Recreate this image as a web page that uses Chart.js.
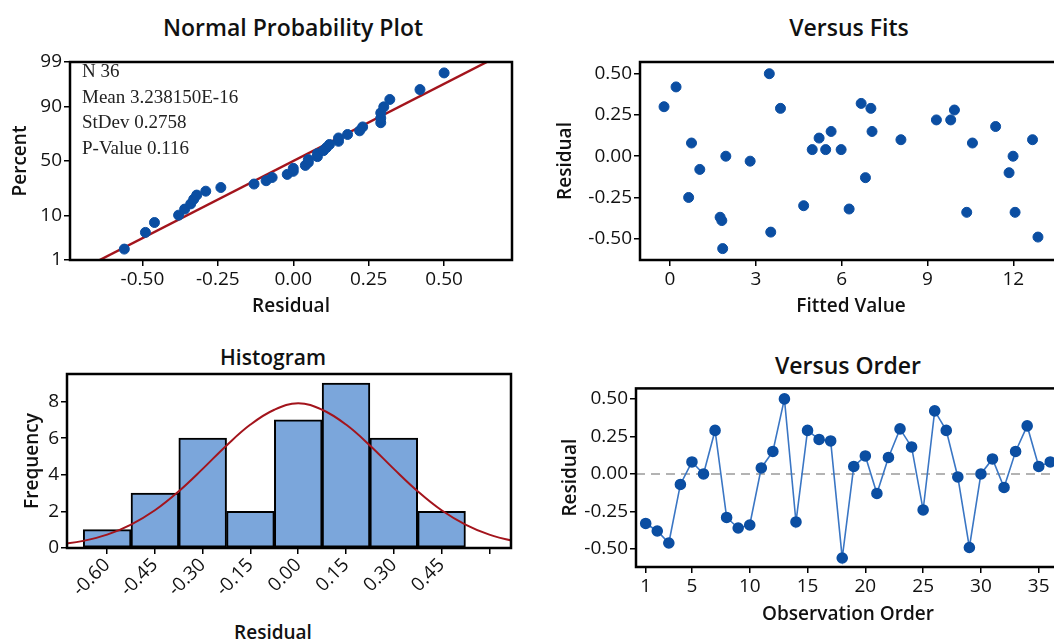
<!DOCTYPE html>
<html lang="en">
<head>
<meta charset="UTF-8" />
<title>Residual Plots</title>
<script src="https://cdn.jsdelivr.net/npm/chart.js"></script>
<style>
  html, body { margin: 0; padding: 0; background: #fff; }
  body { width: 1054px; height: 641px; overflow: hidden; position: relative; font-family: "Open Sans", sans-serif; }
  .panel { position: absolute; }
  .title { position: absolute; transform: translateX(-50%); white-space: nowrap;
           font-size: 23px; font-weight: 600; line-height: 28px; color: #111; }
  .xlabel { position: absolute; transform: translateX(-50%); white-space: nowrap;
            font-size: 19px; font-weight: 600; line-height: 22px; color: #111; }
</style>
</head>
<body>
  <div class="title" style="left:293px; top:13px;">Normal Probability Plot</div>
  <div class="title" style="left:849px; top:13px;">Versus Fits</div>
  <div class="title" style="left:273px; top:343px; font-size:21px;">Histogram</div>
  <div class="title" style="left:848px; top:351px;">Versus Order</div>
  <div class="xlabel" style="left:273px; top:621px;">Residual</div>

  <div class="panel" style="left:0; top:40px;"><canvas id="npp" width="540" height="290"></canvas></div>
  <div class="panel" style="left:545px; top:40px;"><canvas id="fits" width="540" height="290"></canvas></div>
  <div class="panel" style="left:0; top:360px;"><canvas id="hist" width="540" height="281"></canvas></div>
  <div class="panel" style="left:545px; top:375px;"><canvas id="order" width="540" height="266"></canvas></div>

<script>
// residuals in observation order (Versus Order panel)
const RESIDUALS = [-0.33, -0.38, -0.46, -0.07, 0.08, 0.00, 0.29, -0.29, -0.36, -0.34,
                   0.04, 0.15, 0.50, -0.32, 0.29, 0.23, 0.22, -0.56, 0.05, 0.12,
                   -0.13, 0.11, 0.30, 0.18, -0.24, 0.42, 0.29, -0.02, -0.49, 0.00,
                   0.10, -0.09, 0.15, 0.32, 0.05, 0.08];
const ORDER_TICKS = [1, 5, 10, 15, 20, 25, 30, 35];

// Versus Fits panel
const FITTED = [-0.21, 0.21, 0.75, 1.04, 0.65, 1.75, 1.81, 1.84, 1.95, 2.80,
                3.47, 3.52, 3.86, 4.67, 4.97, 5.21, 5.44, 5.63, 5.98, 6.26,
                6.68, 6.83, 7.02, 7.06, 8.07, 9.31, 9.81, 9.94, 10.37, 10.57,
                11.38, 11.85, 11.99, 12.06, 12.67, 12.86];
const FIT_RESID = [0.30, 0.42, 0.08, -0.08, -0.25, -0.37, -0.39, -0.56, 0.00, -0.03,
                   0.50, -0.46, 0.29, -0.30, 0.04, 0.11, 0.04, 0.15, 0.04, -0.32,
                   0.32, -0.13, 0.29, 0.15, 0.10, 0.22, 0.22, 0.28, -0.34, 0.08,
                   0.18, -0.10, 0.00, -0.34, 0.10, -0.49];
const FIT_TICKS = [0, 3, 6, 9, 12];

// Histogram panel
const BIN_MIDS = [-0.60, -0.45, -0.30, -0.15, 0.00, 0.15, 0.30, 0.45];
const BIN_COUNTS = [1, 3, 6, 2, 7, 9, 6, 2];
const HIST_TICKS = [-0.60, -0.45, -0.30, -0.15, 0.00, 0.15, 0.30, 0.45, 0.60];
const CURVE_X = [-0.75, -0.675, -0.60, -0.525, -0.45, -0.375, -0.30, -0.225, -0.15, -0.075, 0,
                 0.075, 0.15, 0.225, 0.30, 0.375, 0.45, 0.525, 0.60, 0.675, 0.75];
const CURVE_Y = [0.19, 0.39, 0.73, 1.28, 2.06, 3.10, 4.32, 5.60, 6.74, 7.55, 7.9,
                 7.55, 6.74, 5.60, 4.32, 3.10, 2.06, 1.28, 0.73, 0.39, 0.19];

// Normal probability plot
const PERCENT_TICKS = [1, 10, 50, 90, 99];
const RESID_TICKS = [-0.50, -0.25, 0.00, 0.25, 0.50];
const STATS = ['N 36', 'Mean 3.238150E-16', 'StDev 0.2758', 'P-Value 0.116'];
const MEAN = 0;
const STDEV = 0.2758;

const BLUE = '#0b4ea2';
const LINE_BLUE = '#3a76c4';
const RED = '#a3141c';
const FILL = '#7ba6db';

// inverse normal cdf (Abramowitz & Stegun 26.2.23)
function zOf(p) {
  if (p === 0.5) return 0;
  const q = p < 0.5 ? p : 1 - p;
  const t = Math.sqrt(-2 * Math.log(q));
  const z = t - (2.515517 + 0.802853 * t + 0.010328 * t * t) /
                (1 + 1.432788 * t + 0.189269 * t * t + 0.001308 * t * t * t);
  return p < 0.5 ? -z : z;
}

const tickFont = { family: 'Open Sans', size: 19 };
const titleFont = { family: 'Open Sans', size: 19, weight: '600' };

function axis(o) {
  return {
    type: 'linear',
    min: o.min, max: o.max,
    offset: false,
    afterBuildTicks: s => { s.ticks = o.ticks.map(v => ({ value: v })); },
    afterFit: s => { if (o.width) s.width = o.width; if (o.height) s.height = o.height; },
    border: { display: false },
    grid: { offset: false, drawOnChartArea: false, drawTicks: true, tickLength: 6, color: '#000', lineWidth: 1.5 },
    ticks: Object.assign({ color: '#111', font: tickFont, padding: 2, autoSkip: false,
                           maxRotation: 0, minRotation: 0,
                           callback: v => v.toFixed(2) }, o.tickOpts || {}),
    title: o.title ? { display: true, text: o.title, color: '#111', font: titleFont, padding: o.titlePad } : { display: false }
  };
}

const frame = {
  id: 'frame',
  afterDatasetsDraw(chart) {
    const { ctx, chartArea: a } = chart;
    ctx.save();
    ctx.strokeStyle = '#000';
    ctx.lineWidth = 2.5;
    ctx.strokeRect(a.left, a.top, a.right - a.left, a.bottom - a.top);
    ctx.restore();
  }
};

const base = {
  responsive: false,
  animation: false,
  plugins: { legend: { display: false }, tooltip: { enabled: false } }
};

// ---- Normal probability plot ----
const sorted = RESIDUALS.slice().sort((a, b) => a - b);
const nppPoints = sorted.map((r, i) => ({ x: r, y: zOf((i + 1 - 0.3) / (sorted.length + 0.4)) }));
const zLo = zOf(0.01), zHi = zOf(0.99);

const statsBox = {
  id: 'statsBox',
  afterDraw(chart) {
    const { ctx, chartArea: a } = chart;
    ctx.save();
    ctx.fillStyle = '#222';
    ctx.font = '19px "Liberation Serif"';
    ctx.textBaseline = 'middle';
    STATS.forEach((s, i) => ctx.fillText(s, a.left + 12, a.top + 10 + i * 25.7));
    ctx.restore();
  }
};

new Chart(document.getElementById('npp'), {
  type: 'scatter',
  data: {
    datasets: [
      { data: nppPoints, pointRadius: 5, pointBackgroundColor: BLUE, pointBorderColor: BLUE, order: 0 },
      { type: 'line', data: [{ x: MEAN + zLo * STDEV, y: zLo }, { x: MEAN + zHi * STDEV, y: zHi }],
        borderColor: RED, borderWidth: 2.5, pointRadius: 0, order: 1 }
    ]
  },
  options: Object.assign({}, base, {
    layout: { padding: { top: 22, right: 28, left: 0, bottom: 0 } },
    scales: {
      x: axis({ min: -0.74, max: 0.725, ticks: RESID_TICKS, height: 70, title: 'Residual', titlePad: { top: 0, bottom: 12 } }),
      y: axis({ min: zLo, max: zHi, ticks: PERCENT_TICKS.map(p => zOf(p / 100)), width: 70,
                title: 'Percent', titlePad: { top: 9, bottom: 0 },
                tickOpts: { callback: (v, i) => String(PERCENT_TICKS[i]) } })
    }
  }),
  plugins: [frame, statsBox]
});

// ---- Versus Fits ----
new Chart(document.getElementById('fits'), {
  type: 'scatter',
  data: {
    datasets: [{ data: FITTED.map((f, i) => ({ x: f, y: FIT_RESID[i] })),
                 pointRadius: 5, pointBackgroundColor: BLUE, pointBorderColor: BLUE }]
  },
  options: Object.assign({}, base, {
    layout: { padding: { top: 22, right: 23, left: 0, bottom: 0 } },
    scales: {
      x: axis({ min: -1.05, max: 13.7, ticks: FIT_TICKS, height: 70, title: 'Fitted Value', titlePad: { top: 0, bottom: 12 },
                tickOpts: { callback: v => String(v) } }),
      y: axis({ min: -0.629, max: 0.571, ticks: RESID_TICKS, width: 95, title: 'Residual', titlePad: { top: 9, bottom: 0 } })
    }
  }),
  plugins: [frame]
});

// ---- Histogram ----
new Chart(document.getElementById('hist'), {
  type: 'bar',
  data: {
    datasets: [
      { type: 'line', data: CURVE_X.map((x, i) => ({ x, y: CURVE_Y[i] })), borderColor: RED, borderWidth: 2,
        pointRadius: 0, tension: 0.4, order: 0 },
      { type: 'bar', data: BIN_MIDS.map((x, i) => ({ x, y: BIN_COUNTS[i] })), backgroundColor: FILL,
        borderColor: '#000', borderWidth: 2, borderSkipped: false, barPercentage: 1, categoryPercentage: 1, order: 1 }
    ]
  },
  options: Object.assign({}, base, {
    layout: { padding: { top: 14, right: 29, left: 0, bottom: 0 } },
    scales: {
      x: axis({ min: -0.726, max: 0.668, ticks: HIST_TICKS, height: 93,
                tickOpts: { maxRotation: 45, minRotation: 45, padding: 0,
                            callback: (v, i) => i === HIST_TICKS.length - 1 ? '' : HIST_TICKS[i].toFixed(2) } }),
      y: axis({ min: 0, max: 9.5, ticks: [0, 2, 4, 6, 8], width: 67, title: 'Frequency', titlePad: { top: 21, bottom: 0 },
                tickOpts: { callback: v => String(v) } })
    }
  }),
  plugins: [frame]
});

// ---- Versus Order ----
const zeroLine = {
  id: 'zeroLine',
  beforeDatasetsDraw(chart) {
    const { ctx, chartArea: a, scales } = chart;
    const y = scales.y.getPixelForValue(0);
    ctx.save();
    ctx.strokeStyle = '#9a9a9a';
    ctx.lineWidth = 1.5;
    ctx.setLineDash([9, 6]);
    ctx.beginPath();
    ctx.moveTo(a.left, y);
    ctx.lineTo(a.right, y);
    ctx.stroke();
    ctx.restore();
  }
};

new Chart(document.getElementById('order'), {
  type: 'line',
  data: {
    datasets: [{ data: RESIDUALS.map((r, i) => ({ x: i + 1, y: r })), borderColor: LINE_BLUE, borderWidth: 1.6,
                 pointRadius: 5, pointBackgroundColor: BLUE, pointBorderColor: BLUE, tension: 0 }]
  },
  options: Object.assign({}, base, {
    layout: { padding: { top: 13, right: 25, left: 0, bottom: 0 } },
    scales: {
      x: axis({ min: 0.16, max: 36.84, ticks: ORDER_TICKS, height: 74, title: 'Observation Order', titlePad: { top: 0, bottom: 15 },
                tickOpts: { callback: v => String(v) } }),
      y: axis({ min: -0.62, max: 0.57, ticks: RESID_TICKS, width: 91, title: 'Residual', titlePad: { top: 14, bottom: 0 } })
    }
  }),
  plugins: [frame, zeroLine]
});
</script>
</body>
</html>
